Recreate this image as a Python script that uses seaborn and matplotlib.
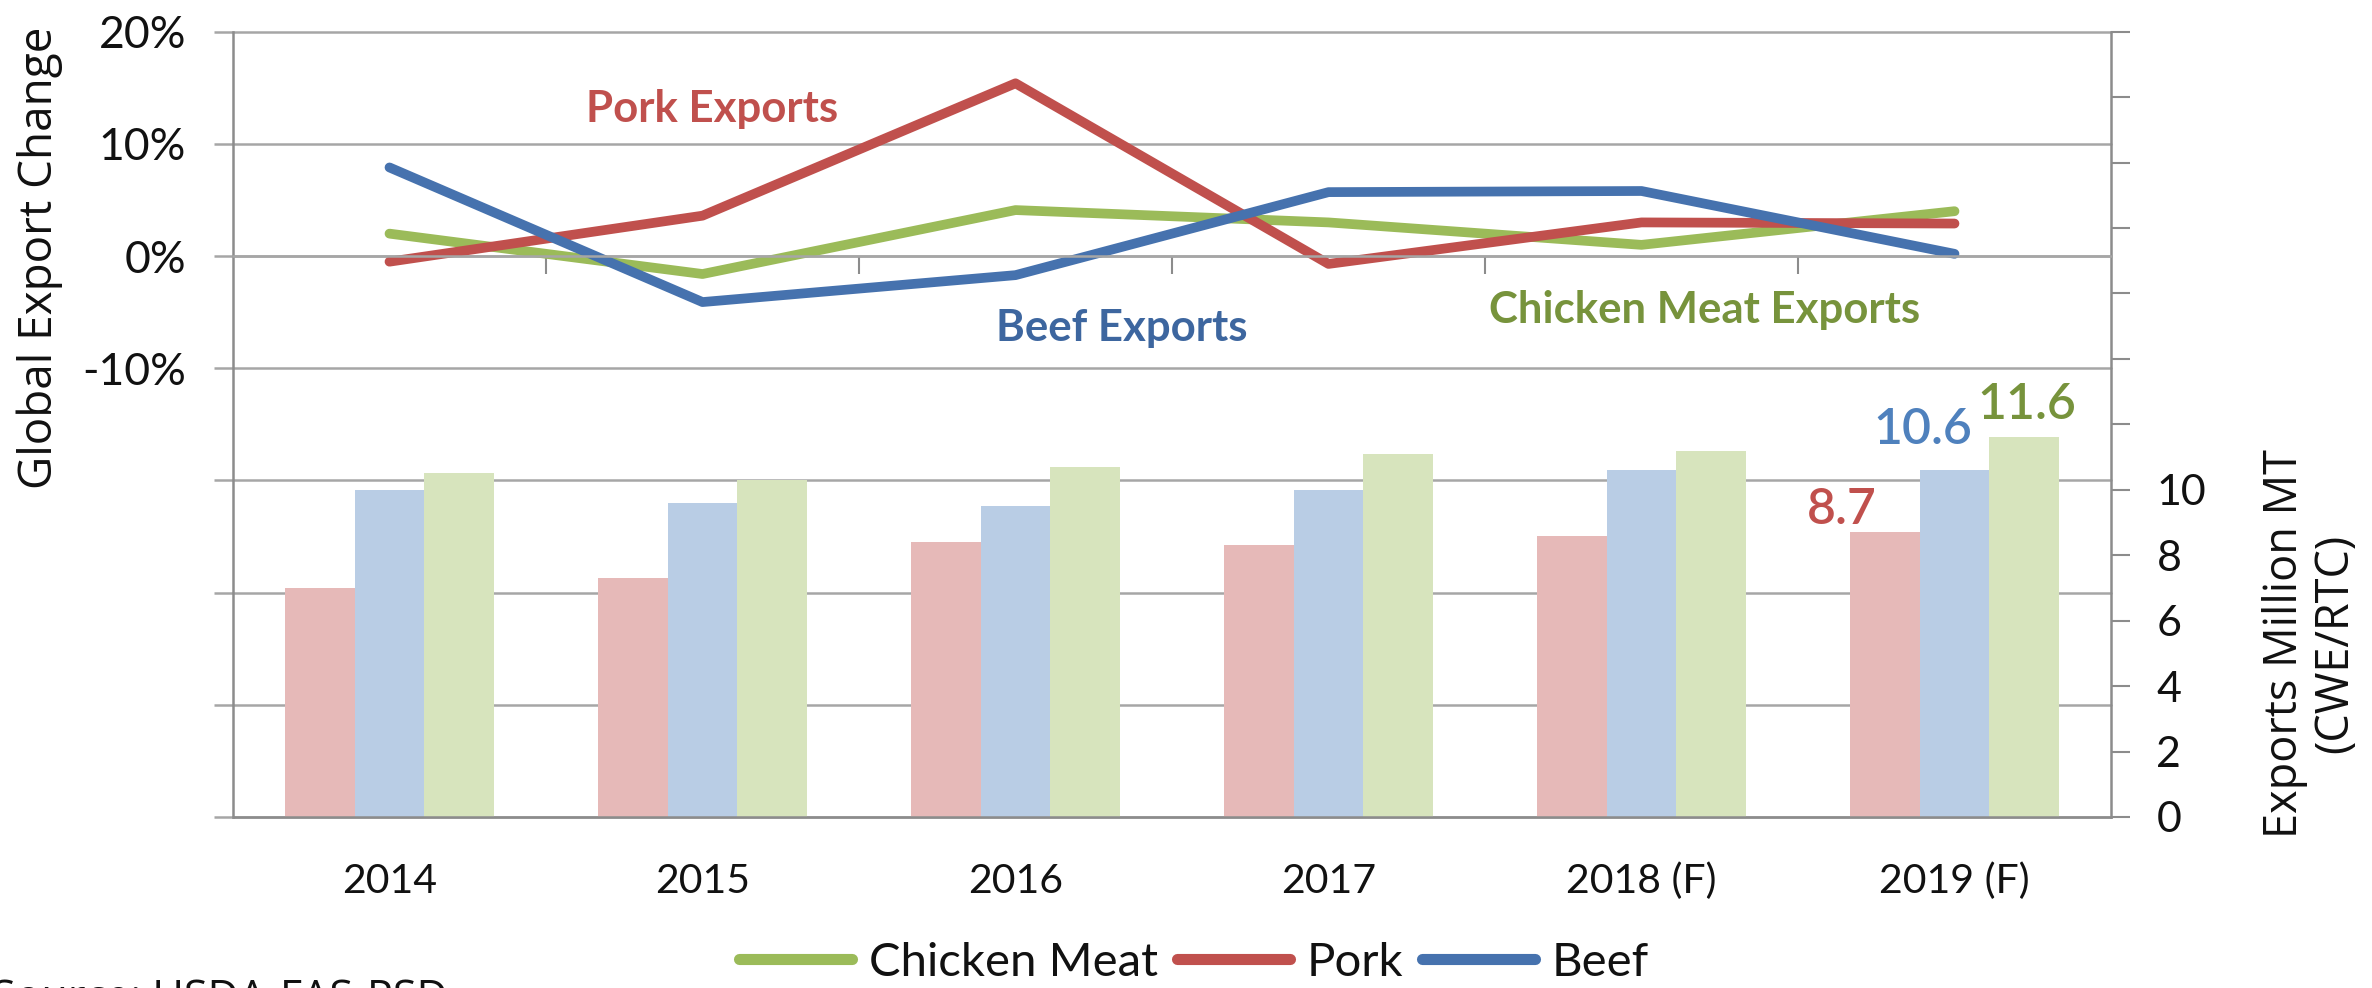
import numpy as np
import pandas as pd
import matplotlib
matplotlib.use("Agg")
import matplotlib.pyplot as plt
import matplotlib.transforms as mtransforms
from matplotlib.lines import Line2D
import seaborn as sns

# ---------------- data ----------------
years = ["2014", "2015", "2016", "2017", "2018 (F)", "2019 (F)"]
pork_exports = [7.0, 7.3, 8.4, 8.3, 8.6, 8.7]
beef_exports = [10.0, 9.6, 9.5, 10.0, 10.6, 10.6]
chicken_exports = [10.5, 10.3, 10.7, 11.1, 11.2, 11.6]
chicken_change = [2.0, -1.6, 4.1, 3.0, 1.0, 4.0]
pork_change = [-0.5, 3.6, 15.4, -0.7, 3.0, 2.9]
beef_change = [7.9, -4.1, -1.7, 5.7, 5.8, 0.2]
line_meats = ["Chicken Meat", "Pork", "Beef"]
bar_meats = ["Pork", "Beef", "Chicken Meat"]
left_ticks = [-50, -40, -30, -20, -10, 0, 10, 20]
left_ticklabels = ["", "", "", "", "-10%", "0%", "10%", "20%"]
right_ticks = [0, 2, 4, 6, 8, 10, 12, 14, 16, 18, 20, 22, 24]
right_ticklabels = ["0", "2", "4", "6", "8", "10", "", "", "", "", "", "", ""]

# ---------------- style ----------------
line_colors = ["#9BBB59", "#C0504D", "#4672AE"]
bar_colors = ["#E6B9B8", "#B9CDE5", "#D7E4BD"]
grid_c = "#A6A6A6"
axis_c = "#8C8C8C"
txt_c = "#111111"

sns.set_theme(style="white")
plt.rcParams["font.family"] = ["Lato", "DejaVu Sans"]
side_font = ["Open Sans", "DejaVu Sans"]

W, H = 2372, 988
fig = plt.figure(figsize=(W / 100, H / 100), dpi=100)
rect = [233 / W, 1 - 817 / H, (2111 - 233) / W, (817 - 31.7) / H]
ax_b = fig.add_axes(rect, label="bars")
ax_l = fig.add_axes(rect, label="lines")

# ---------------- bars (right axis) ----------------
bars_df = pd.DataFrame({
    "Year": years * 3,
    "Meat": [m for m in bar_meats for _ in years],
    "Exports": pork_exports + beef_exports + chicken_exports,
})
sns.barplot(data=bars_df, x="Year", y="Exports", hue="Meat", order=years,
            hue_order=bar_meats, palette=bar_colors, width=0.67, gap=0,
            saturation=1, errorbar=None, linewidth=0, legend=False,
            ax=ax_b, zorder=2)

# ---------------- lines (left axis) ----------------
lines_df = pd.DataFrame({
    "Year": years * 3,
    "Meat": [m for m in line_meats for _ in years],
    "Change": chicken_change + pork_change + beef_change,
})
sns.lineplot(data=lines_df, x="Year", y="Change", hue="Meat",
             hue_order=line_meats, palette=line_colors, linewidth=7,
             legend=False, ax=ax_l, sort=False)
for ln in ax_l.lines:
    ln.set_solid_capstyle("round")
    ln.set_solid_joinstyle("round")

for a in (ax_b, ax_l):
    a.set_xlim(-0.5, len(years) - 0.5)
    a.set_xlabel("")
    a.set_ylabel("")
ax_l.set_ylim(left_ticks[0], left_ticks[-1])
ax_b.set_ylim(right_ticks[0], right_ticks[-1])

# gridlines (left-axis values) drawn beneath bars
blend = mtransforms.blended_transform_factory(ax_b.transAxes, ax_l.transData)
for v in left_ticks:
    ax_b.plot([0, 1], [v, v], transform=blend, color=grid_c, lw=1.8,
              zorder=0.5, clip_on=False)

# bar axis: right ticks, category labels at bottom
ax_b.yaxis.tick_right()
ax_b.set_yticks(right_ticks, right_ticklabels)
ax_b.tick_params(axis="y", which="major", right=True, left=False,
                 direction="out", length=13.7, width=1.5, color=axis_c,
                 pad=19, labelsize=31, labelcolor=txt_c)
ax_b.set_xticks(range(len(years)), years)
ax_b.tick_params(axis="x", length=0, pad=33, labelsize=29.5, labelcolor=txt_c)
for s in ("left", "top"):
    ax_b.spines[s].set_visible(False)
for s in ("right", "bottom"):
    ax_b.spines[s].set_color(axis_c)
    ax_b.spines[s].set_linewidth(1.8)
ax_b.grid(False)

# line axis: left ticks, zero-line axis with boundary ticks
ax_l.patch.set_visible(False)
ax_l.set_yticks(left_ticks, left_ticklabels)
ax_l.tick_params(axis="y", left=True, direction="out", length=13.7,
                 width=1.8, color=grid_c, pad=20, labelsize=32,
                 labelcolor=txt_c)
ax_l.set_xticks(np.arange(0.5, len(years) - 1, 1.0))
ax_l.tick_params(axis="x", bottom=True, direction="out", length=13,
                 width=1.5, color=axis_c, labelbottom=False)
for s in ("right", "top"):
    ax_l.spines[s].set_visible(False)
ax_l.spines["left"].set_color(axis_c)
ax_l.spines["left"].set_linewidth(1.8)
ax_l.spines["bottom"].set_position(("data", 0))
ax_l.spines["bottom"].set_color(grid_c)
ax_l.spines["bottom"].set_linewidth(1.8)
ax_l.grid(False)

# series annotations
ax_l.text(1.03, 13.1, "Pork Exports", color="#C0504D", fontsize=31.5,
          fontweight="bold", ha="center", va="center")
ax_l.text(2.34, -6.4, "Beef Exports", color="#3D669F", fontsize=31.5,
          fontweight="bold", ha="center", va="center")
ax_l.text(4.20, -4.85, "Chicken Meat Exports", color="#77933C", fontsize=31.5,
          fontweight="bold", ha="center", va="center")

# value labels for the final year
last = len(years) - 1
ax_b.text(last - 0.36, pork_exports[-1] + 0.25, f"{pork_exports[-1]}",
          color="#C0504D", fontsize=36, fontweight="semibold",
          ha="center", va="baseline")
ax_b.text(last - 0.10, beef_exports[-1] + 0.8, f"{beef_exports[-1]}",
          color="#4F81BD", fontsize=36, fontweight="semibold",
          ha="center", va="baseline")
ax_b.text(last + 0.23, chicken_exports[-1] + 0.55, f"{chicken_exports[-1]}",
          color="#77933C", fontsize=36, fontweight="semibold",
          ha="center", va="baseline")

# axis titles
fig.text(40 / W, 1 - 258 / H, "Global Export Change", rotation=90,
         ha="center", va="center", fontsize=33, color=txt_c, family=side_font)
fig.text(2310 / W, 1 - 643 / H, "Exports Million MT\n(CWE/RTC)", rotation=90,
         ha="center", va="center", fontsize=32.5, color=txt_c, family=side_font,
         multialignment="center", linespacing=1.1)

# legend
handles = [Line2D([], [], color=c, lw=8, solid_capstyle="round")
           for c in line_colors]
fig.legend(handles, line_meats, loc="center",
           bbox_to_anchor=(1194 / W, 1 - 963 / H), ncol=3, frameon=False,
           fontsize=34, handlelength=2.4, handletextpad=0.35,
           columnspacing=0.4, labelcolor=txt_c)

# source (cut by the lower edge, as in the original)
fig.text(-8 / W, 1 - 1011 / H, "Source: USDA-FAS-PSD", fontsize=31,
         color=txt_c, family=side_font, ha="left", va="baseline")

fig.savefig("out.png", dpi=100)
